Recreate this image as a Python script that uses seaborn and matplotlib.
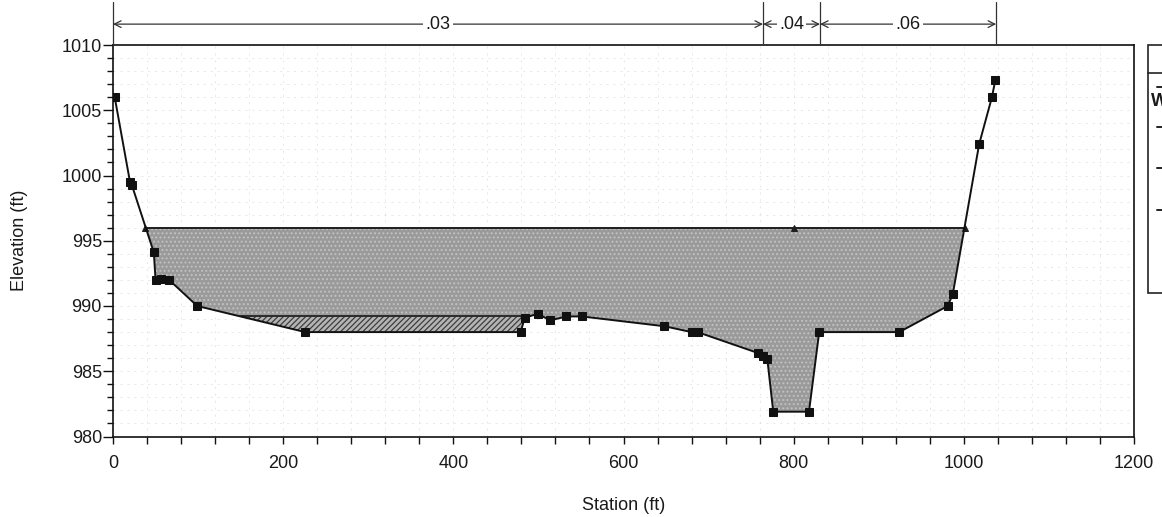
import numpy as np
import matplotlib
matplotlib.use('Agg')
import matplotlib.pyplot as plt
import seaborn as sns
from matplotlib.ticker import MultipleLocator, FixedLocator
from matplotlib.lines import Line2D
from matplotlib.patches import Rectangle

# ---------------- data ----------------
ground_sta = [2, 20, 22, 48, 50, 57, 66, 99, 226, 479, 484, 499, 514, 533, 551,
              648, 680, 687, 758, 764, 769, 776, 818, 830, 924, 981, 987, 1018,
              1033, 1037]
ground_elev = [1006.0, 999.5, 999.3, 994.1, 992.0, 992.1, 992.0, 990.0, 988.0,
               988.0, 989.1, 989.4, 988.9, 989.2, 989.2, 988.45, 988.0, 988.0,
               986.4, 986.2, 985.95, 981.9, 981.9, 988.0, 988.0, 990.0, 990.9,
               1002.4, 1006.0, 1007.3]
ws_sta = [38, 800, 1001]
ws_elev = 996.0
ineff_elev = 989.2
ineff_right_sta = 484
n_break_sta = [0, 764, 831, 1038]
n_values = ['.03', '.04', '.06']
x_ticks = [0, 200, 400, 600, 800, 1000, 1200]
y_ticks = [980, 985, 990, 995, 1000, 1005, 1010]
legend_first_label = 'WS PF 1'

# ---------------- style ----------------
sns.set_theme(style='white')
plt.rcParams['font.family'] = ['Liberation Sans', 'DejaVu Sans']
plt.rcParams['hatch.linewidth'] = 0.9

W, H = 1162, 517
fig = plt.figure(figsize=(W / 100, H / 100), dpi=100)
fig.patch.set_facecolor('white')
ax = fig.add_axes([113 / W, 1 - 436.5 / H, (1134 - 113) / W, (436.5 - 45) / H])
ax.set_facecolor('white')

gx = np.array(ground_sta, dtype=float)
gy = np.array(ground_elev, dtype=float)

# water fill
ax.fill_between(gx, gy, ws_elev, where=gy <= ws_elev, interpolate=True,
                facecolor='#9a9a9a', edgecolor='#c2c2c2', hatch='....',
                linewidth=0, zorder=1)
# ineffective flow area
mask = (gy <= ineff_elev) & (gx <= ineff_right_sta)
ax.fill_between(gx, gy, ineff_elev, where=mask, interpolate=True,
                facecolor='#b4b4b4', edgecolor='#3e3e3e', hatch='//////',
                linewidth=0, zorder=2)
xs = np.linspace(0, ineff_right_sta, 800)
gys = np.interp(xs, gx, gy)
ax.plot(xs, np.where(gys <= ineff_elev, ineff_elev, np.nan), color='#222222',
        lw=1.3, zorder=3)

# water surface line with triangles
sns.lineplot(x=ws_sta, y=[ws_elev] * len(ws_sta), ax=ax, color='#1e1e1e',
             lw=1.4, marker='^', markersize=5, markeredgecolor='#1e1e1e',
             sort=False, estimator=None, zorder=4)
# ground line
sns.lineplot(x=gx, y=gy, ax=ax, color='#111111', lw=1.4, marker='s',
             markersize=5.8, markeredgecolor='#111111', sort=False,
             estimator=None, zorder=5)

ax.set_xlim(x_ticks[0], x_ticks[-1])
ax.set_ylim(y_ticks[0], y_ticks[-1])
ax.xaxis.set_major_locator(FixedLocator(x_ticks))
ax.yaxis.set_major_locator(FixedLocator(y_ticks))
ax.xaxis.set_minor_locator(MultipleLocator(40))
ax.yaxis.set_minor_locator(MultipleLocator(1))
ax.grid(which='both', color='#dedede', lw=0.5, ls=(0, (3, 7)), zorder=0)

for s in ax.spines.values():
    s.set_color('#111111')
    s.set_linewidth(1.2)

ax.tick_params(axis='y', which='major', direction='out', length=7, width=1,
               color='#111111', labelsize=13, labelcolor='#1a1a1a', pad=1,
               left=True)
ax.tick_params(axis='y', which='minor', direction='out', length=4, width=1,
               color='#111111', left=True)
ax.tick_params(axis='x', which='major', direction='out', length=5, width=1,
               color='#111111', labelsize=13, labelcolor='#1a1a1a', pad=8,
               bottom=True)
ax.tick_params(axis='x', which='minor', direction='out', length=5, width=1,
               color='#111111', bottom=True)

ax.set_xlabel('Station (ft)', fontsize=13, color='#1a1a1a', labelpad=18)
ax.set_ylabel('Elevation (ft)', fontsize=13, color='#1a1a1a', labelpad=24)

# Manning's n brackets above the plot
yb = 1011.6
for s in n_break_sta:
    ax.plot([s, s], [y_ticks[-1], 1013.3], color='#333333', lw=0.9,
            clip_on=False, zorder=6)
for i, lab in enumerate(n_values):
    x0, x1 = n_break_sta[i], n_break_sta[i + 1]
    ax.annotate('', xy=(x0, yb), xytext=(x1, yb),
                arrowprops=dict(arrowstyle='<->', lw=0.9, color='#333333',
                                shrinkA=0, shrinkB=0),
                annotation_clip=False)
    ax.text((x0 + x1) / 2, yb, lab, ha='center', va='center', fontsize=13,
            color='#1a1a1a', clip_on=False, zorder=7,
            bbox=dict(facecolor='white', edgecolor='none', pad=1.5))

# partially visible legend box at the right edge (cut off, as in the reference)
lx0 = 1148 / W
ltop = 1 - 45 / H
lbot = 1 - 293 / H
fig.patches.append(Rectangle((lx0, lbot), 0.2, ltop - lbot, transform=fig.transFigure,
                             facecolor='white', edgecolor='#222222', lw=1.2))
fig.lines.append(Line2D([lx0, 1.2], [1 - 73 / H] * 2, transform=fig.transFigure,
                        color='#222222', lw=1.2))
fig.text(1151 / W, 1 - 101 / H, legend_first_label, fontsize=13, va='center',
         fontweight='bold', color='#1a1a1a')
for yy in [87, 127, 168, 210]:
    fig.lines.append(Line2D([1157 / W, 1190 / W], [1 - yy / H] * 2,
                            transform=fig.transFigure, color='#222222', lw=1.4))

fig.savefig('out.png', dpi=100, facecolor='white')
